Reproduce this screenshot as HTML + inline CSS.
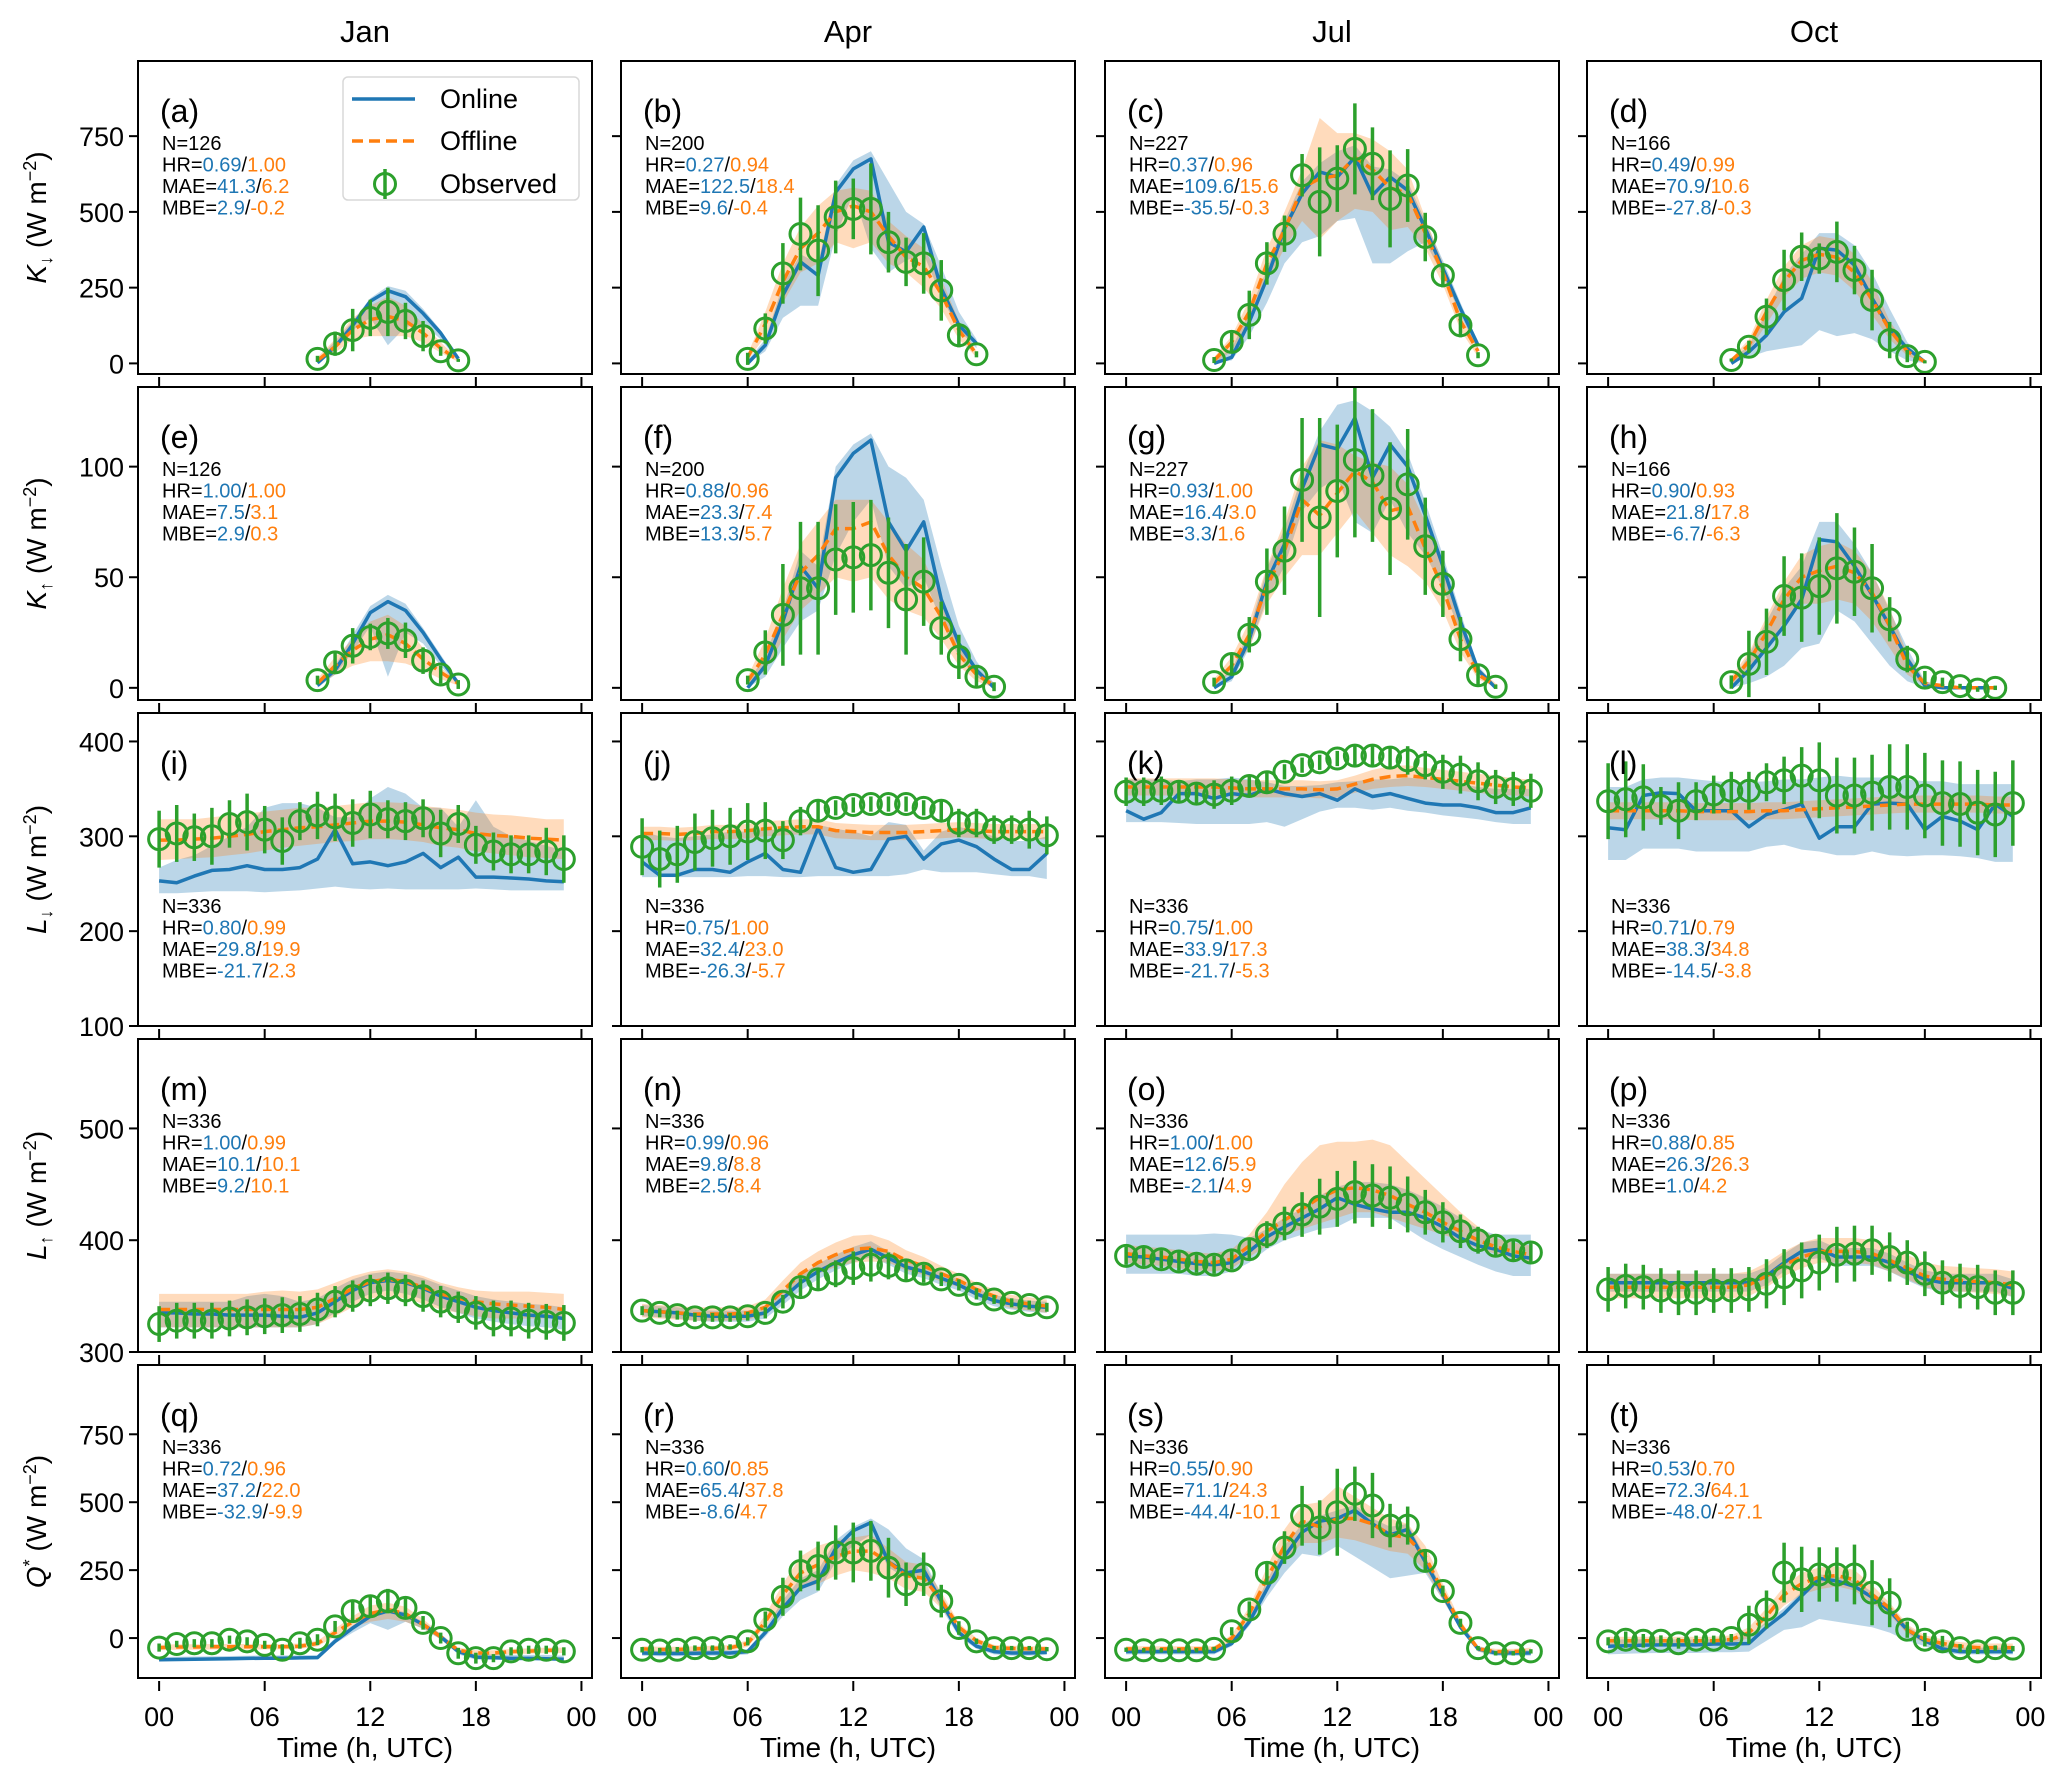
<!DOCTYPE html>
<html><head><meta charset="utf-8"><style>
html,body{margin:0;padding:0;background:#fff;}
svg{display:block;font-family:"Liberation Sans",Arial,sans-serif;}
</style></head><body>
<svg id="chart" width="2067" height="1776" viewBox="0 0 2067 1776" xmlns="http://www.w3.org/2000/svg"></svg>
<script>
// ---------- data ----------
const months = ["Jan","Apr","Jul","Oct"];
const panelLetters = ["a","b","c","d","e","f","g","h","i","j","k","l","m","n","o","p","q","r","s","t"];
const startHours = [9,6,5,7, 9,6,5,7, 0,0,0,0, 0,0,0,0, 0,0,0,0];
const statN = ["126","200","227","166","126","200","227","166","336","336","336","336","336","336","336","336","336","336","336","336"];
const statHROn = ["0.69","0.27","0.37","0.49","1.00","0.88","0.93","0.90","0.80","0.75","0.75","0.71","1.00","0.99","1.00","0.88","0.72","0.60","0.55","0.53"];
const statHROff = ["1.00","0.94","0.96","0.99","1.00","0.96","1.00","0.93","0.99","1.00","1.00","0.79","0.99","0.96","1.00","0.85","0.96","0.85","0.90","0.70"];
const statMAEOn = ["41.3","122.5","109.6","70.9","7.5","23.3","16.4","21.8","29.8","32.4","33.9","38.3","10.1","9.8","12.6","26.3","37.2","65.4","71.1","72.3"];
const statMAEOff = ["6.2","18.4","15.6","10.6","3.1","7.4","3.0","17.8","19.9","23.0","17.3","34.8","10.1","8.8","5.9","26.3","22.0","37.8","24.3","64.1"];
const statMBEOn = ["2.9","9.6","-35.5","-27.8","2.9","13.3","3.3","-6.7","-21.7","-26.3","-21.7","-14.5","9.2","2.5","-2.1","1.0","-32.9","-8.6","-44.4","-48.0"];
const statMBEOff = ["-0.2","-0.4","-0.3","-0.3","0.3","5.7","1.6","-6.3","2.3","-5.7","-5.3","-3.8","10.1","8.4","4.9","4.2","-9.9","4.7","-10.1","-27.1"];
const yLimits = [[-35,998],[-5.5,136],[100,430],[300,580],[-147,1005]];
const yTicks = [[0,250,500,750],[0,50,100],[100,200,300,400],[300,400,500],[0,250,500,750]];
const xTicks = [0,6,12,18,24];
const xTickLabels = ["00","06","12","18","00"];

const on_a=[2,55,125,205,240,220,165,100,15], off_a=[10,55,110,145,155,140,100,50,10], obs_a=[15,65,110,150,170,140,90,40,10], err_a=[10,40,70,60,80,60,50,15,5];
const onLo_a=[0,45,110,150,60,120,130,80,10], onHi_a=[10,75,140,215,255,240,180,110,20], offLo_a=[5,35,80,90,90,90,70,35,5], offHi_a=[20,80,150,190,220,190,130,70,15];
const on_b=[0,60,225,335,290,565,642,675,400,368,450,247,126,66], off_b=[20,130,270,380,430,500,520,500,420,350,320,230,110,30], obs_b=[15,115,297,427,372,483,510,510,400,335,330,241,93,30], err_b=[20,50,100,120,150,120,100,150,100,80,100,100,40,10];
const onLo_b=[0,40,150,190,190,420,560,380,300,340,360,220,110,50], onHi_b=[10,80,260,360,330,590,670,700,600,500,460,320,170,80], offLo_b=[10,90,200,300,330,400,380,400,330,300,250,180,80,20], offHi_b=[30,170,330,450,520,570,580,570,470,420,380,280,140,40];
const on_c=[0,20,137,280,445,560,632,615,681,555,615,571,445,313,181,60], off_c=[10,70,170,330,440,580,610,620,680,640,580,560,430,300,140,40], obs_c=[11,71,160,330,428,621,533,610,708,659,543,587,417,291,126,27], err_c=[10,30,80,70,60,70,180,110,150,120,160,120,80,40,40,10];
const onLo_c=[0,10,90,200,330,400,420,470,480,330,330,370,400,290,160,40], onHi_c=[10,50,170,310,470,600,660,700,720,650,640,600,470,340,200,70], offLo_c=[0,40,130,270,380,470,410,470,510,500,440,450,380,260,110,20], offHi_c=[20,90,210,380,500,640,810,760,760,740,700,640,480,330,160,50];
const on_d=[0,38,93,170,215,380,374,324,215,115,49,5], off_d=[10,60,170,270,340,360,350,300,210,110,40,5], obs_d=[11,55,154,275,352,346,368,308,209,77,24,5], err_d=[5,20,60,100,80,50,100,80,100,60,20,5];
const onLo_d=[0,20,40,50,60,110,90,100,80,40,10,0], onHi_d=[10,60,170,290,360,430,430,390,300,180,70,10], offLo_d=[5,40,130,220,280,300,290,240,160,80,25,0], offHi_d=[15,80,210,320,390,420,410,360,270,140,55,10];
const on_e=[1,8,20,34,39,35,25,13,2], off_e=[2,10,17,22,24,20,13,7,2], obs_e=[3.5,11.5,19,23,24.6,21.5,12.3,6,1.5], err_e=[2,5,8,6,7,8,6,4,2];
const onLo_e=[0,6,16,28,5,25,20,10,1], onHi_e=[2,10,24,37,42,38,27,15,3], offLo_e=[1,6,10,12,12,11,8,4,1], offHi_e=[4,14,22,30,33,28,18,9,3];
const on_f=[0,10,30,55,45,95,106,112,75,62,75,40,20,8,0], off_f=[3,15,33,52,60,72,72,75,60,50,45,32,15,6,1], obs_f=[3.5,16,33,45,45,58,59,60,52,40,48,27,14,5,0.5], err_f=[2,10,23,30,30,25,25,25,25,25,20,12,10,5,2];
const onLo_f=[0,5,18,30,35,60,75,85,55,45,50,30,14,5,0], onHi_f=[2,15,35,62,55,100,110,115,100,95,85,55,28,12,2], offLo_f=[1,8,22,35,42,50,48,50,40,35,32,22,10,3,0], offHi_f=[5,22,45,65,75,85,85,85,75,65,58,40,20,9,2];
const on_g=[0,5,22,48,65,90,110,108,122,95,110,100,78,55,30,8,0], off_g=[2,10,24,46,62,85,78,88,98,93,80,82,63,45,22,6,1], obs_g=[2.6,10.8,24,48,62,94,77,89,103,96,81,92,64,47,22,5.7,0.5], err_g=[2,5,8,15,20,28,45,30,35,30,30,25,22,15,10,5,1];
const onLo_g=[0,3,18,40,55,80,90,95,75,70,85,70,60,45,25,5,0], onHi_g=[2,8,26,54,72,96,116,128,130,125,118,106,84,60,34,10,1], offLo_g=[1,7,18,38,50,60,60,70,80,70,60,55,48,35,16,4,0], offHi_g=[4,14,30,55,75,100,112,110,105,102,100,92,75,55,28,9,2];
const on_h=[0,8,18,28,40,67,66,55,42,28,13,1,0,0,0,0], off_h=[3,12,25,40,50,53,55,52,43,28,10,2,1,0,0,0], obs_h=[2.6,10.8,20.8,41.5,40.8,46,54,52.5,45,31,13,4.6,2.6,0.8,-0.8,0], err_h=[3,15,15,18,20,22,25,20,20,10,6,3,2,1,1,1];
const onLo_h=[0,2,5,10,18,20,35,30,20,10,3,0,0,0,0,0], onHi_h=[2,15,30,45,55,75,75,65,52,35,18,3,1,0,0,0], offLo_h=[1,8,18,30,38,38,40,38,30,18,6,1,0,0,0,0], offHi_h=[5,16,32,48,60,64,66,62,52,36,15,3,1,0,0,0];
const on_i=[253,251,258,264,265,269,265,265,267,276,307,271,273,269,273,282,267,278,257,257,256,255,253,252], off_i=[296,296,297,298,300,302,305,307,309,310,312,314,316,316,315,312,309,307,303,301,300,298,297,296], obs_i=[297,303,299,300,313,315,307,295,316,322,320,314,323,318,316,319,303,313,291,284,281,281,284,276], err_i=[30,30,25,30,25,30,25,25,20,25,25,25,25,20,20,20,25,20,20,20,20,20,25,25];
const onLo_i=[240,240,241,242,242,242,241,242,243,245,247,245,244,245,244,244,244,244,245,244,243,243,243,243], onHi_i=[267,275,280,290,300,310,330,335,335,330,320,320,340,352,345,330,330,310,338,310,300,295,290,285], offLo_i=[275,276,277,278,280,282,285,288,290,292,294,295,297,297,296,294,290,288,284,282,280,278,277,276], offHi_i=[318,318,318,320,322,324,326,328,330,330,332,334,336,336,335,332,330,328,325,323,322,320,318,318];
const on_j=[273,259,259,265,265,262,273,282,265,262,309,267,262,265,297,300,276,292,296,289,276,265,265,282], off_j=[303,303,302,303,305,305,306,308,309,310,310,306,305,304,304,304,305,306,307,306,305,305,305,305], obs_j=[289,276,281,294,298,300,305,306,296,316,327,330,333,334,334,334,330,327,314,314,307,307,307,301], err_j=[30,30,30,30,30,30,30,30,20,15,10,8,8,8,8,8,8,10,15,15,15,15,20,20];
const onLo_j=[257,257,257,257,257,257,258,258,257,257,258,258,258,258,258,260,265,262,262,262,260,258,258,255], onHi_j=[305,300,298,300,302,305,305,308,306,308,312,308,305,300,315,312,285,305,310,305,300,295,295,300], offLo_j=[296,296,295,296,297,297,298,300,301,302,302,298,297,296,296,296,297,298,299,298,297,297,297,297], offHi_j=[310,310,309,310,312,312,313,316,317,318,318,314,313,312,312,312,313,314,315,314,313,313,313,313];
const on_k=[327,318,325,345,345,340,345,343,350,345,342,345,338,350,342,345,340,335,333,333,330,325,325,330], off_k=[352,352,352,352,352,352,351,350,350,350,350,349,350,355,360,363,364,362,360,358,356,354,352,351], obs_k=[347,347,348,347,345,344,348,353,357,368,375,378,382,385,385,383,380,375,368,365,358,352,350,348], err_k=[15,15,15,12,12,15,15,12,10,8,8,8,8,10,10,12,15,15,18,20,20,18,18,18];
const onLo_k=[315,315,315,314,313,313,313,313,315,310,318,326,330,330,328,330,327,325,322,320,318,315,313,313], onHi_k=[360,360,360,358,360,360,362,360,357,353,353,354,357,358,360,360,362,360,358,355,352,350,350,350], offLo_k=[343,343,343,343,343,343,342,341,341,341,341,340,341,346,350,352,353,352,350,348,346,344,343,342], offHi_k=[361,361,361,361,361,361,360,359,359,359,359,358,359,364,370,374,375,372,370,368,366,364,361,360];
const on_l=[309,307,343,346,345,327,327,327,310,323,328,334,298,310,310,334,335,334,307,321,316,307,334,321], off_l=[327,327,327,327,327,326,326,326,326,327,327,328,329,330,331,332,333,334,334,334,334,334,333,333], obs_l=[337,339,341,332,327,337,344,348,348,357,359,364,359,343,343,346,352,352,343,335,334,325,323,335], err_l=[40,40,35,20,30,20,20,20,20,20,25,30,40,40,40,40,45,45,45,45,45,45,45,45];
const onLo_l=[275,275,287,287,287,284,284,284,284,289,291,286,284,280,280,284,280,279,280,280,279,277,273,273], onHi_l=[352,352,360,362,362,360,358,357,357,358,360,360,362,364,362,362,362,360,358,358,355,355,355,355], offLo_l=[318,318,318,318,318,317,317,317,317,318,318,319,320,321,322,323,324,325,325,325,325,325,324,324], offHi_l=[336,336,336,336,336,335,335,335,335,336,336,337,338,339,340,341,342,343,343,343,343,343,342,342];
const on_m=[335,335,334,334,333,333,333,332,331,335,345,355,362,364,362,357,350,345,340,337,335,333,332,330], off_m=[338,338,338,338,338,338,338,338,338,340,348,357,363,365,363,358,352,348,345,343,342,341,340,338], obs_m=[325,328,328,328,330,331,332,333,334,338,345,350,355,357,355,350,345,340,335,330,330,328,327,326], err_m=[16,16,16,16,16,16,16,16,16,15,14,14,14,14,14,14,14,14,15,16,16,16,16,16];
const onLo_m=[322,322,322,322,322,322,322,322,322,325,335,345,352,355,352,347,340,335,330,327,325,323,322,320], onHi_m=[345,345,345,345,345,350,352,350,345,348,357,365,370,372,370,366,360,355,350,347,345,343,342,340], offLo_m=[322,322,322,322,322,322,322,322,322,325,332,340,348,350,348,343,338,335,332,330,330,330,330,330], offHi_m=[352,352,352,352,352,352,354,355,354,356,362,368,372,374,372,368,362,358,355,354,354,354,353,352];
const on_n=[337,336,335,333,332,332,332,335,348,362,372,380,387,392,384,376,372,366,360,352,346,343,341,340], off_n=[337,336,335,334,334,334,335,340,355,370,380,387,392,393,390,382,377,370,364,356,350,345,343,341], obs_n=[337,335,333,331,331,331,332,335,345,358,365,370,375,378,377,373,370,365,360,352,347,344,342,340], err_n=[4,4,4,4,4,4,4,5,6,8,10,12,15,15,12,10,8,6,5,5,4,4,4,4];
const onLo_n=[332,331,330,328,327,327,327,330,342,355,365,373,380,385,378,370,366,360,355,347,341,338,336,335], onHi_n=[342,341,340,338,337,337,337,341,354,369,379,387,394,399,390,382,378,372,365,357,351,348,346,345], offLo_n=[331,330,329,328,328,328,329,333,346,360,370,376,380,381,380,373,369,363,358,350,344,339,337,335], offHi_n=[343,342,341,340,340,340,341,347,364,380,390,398,404,405,400,391,385,377,370,362,356,351,349,347];
const on_o=[386,385,383,381,379,378,380,390,403,412,420,428,438,432,428,425,425,420,412,402,395,392,386,384], off_o=[388,386,385,383,381,380,383,395,408,418,428,438,445,447,445,440,432,425,416,408,400,394,390,387], obs_o=[386,385,383,381,379,378,382,392,405,415,423,430,437,443,440,438,432,425,416,408,400,395,391,389], err_o=[8,8,8,8,8,8,8,10,12,15,20,25,25,28,28,28,25,20,18,15,12,10,10,8];
const onLo_o=[370,370,370,370,368,368,372,380,392,400,405,410,412,420,420,420,410,400,392,385,378,372,368,368], onHi_o=[405,405,405,405,405,406,405,402,410,420,428,440,448,452,452,450,445,438,430,420,410,405,405,405], offLo_o=[380,378,377,375,373,372,375,385,395,405,410,415,420,425,425,420,415,410,405,400,392,388,384,380], offHi_o=[396,394,393,391,389,388,392,405,425,450,470,485,488,488,490,485,470,455,440,425,412,402,398,395];
const on_p=[362,362,362,362,362,362,362,362,362,368,380,390,392,385,385,385,380,372,365,362,362,362,362,357], off_p=[358,358,358,358,358,358,358,358,360,368,378,385,390,390,390,388,382,375,368,365,364,363,362,360], obs_p=[356,359,358,355,353,353,355,355,356,361,367,373,380,387,388,391,385,380,370,362,359,358,353,353], err_p=[20,20,20,20,20,20,20,20,20,22,25,25,25,25,25,22,22,20,20,20,20,20,20,20];
const onLo_p=[354,354,354,354,354,354,354,354,354,360,372,382,384,377,377,377,372,364,357,354,354,354,354,349], onHi_p=[370,370,370,370,370,370,370,370,370,376,388,398,400,393,393,393,388,380,373,370,370,370,370,365], offLo_p=[348,348,348,348,348,348,348,348,350,358,368,375,380,380,380,378,372,365,358,355,354,353,352,350], offHi_p=[370,370,370,370,370,370,370,370,372,380,390,398,402,402,402,400,394,387,380,377,376,375,374,372];
const on_q=[-80,-79,-78,-77,-76,-75,-74,-74,-73,-72,-12,37,80,100,85,50,5,-50,-70,-72,-75,-75,-76,-78], off_q=[-35,-33,-33,-32,-32,-32,-32,-32,-30,-20,20,60,90,105,90,50,5,-45,-55,-55,-50,-48,-45,-45], obs_q=[-35,-22,-19,-19,-6,-12,-25,-43,-19,-6,43,99,117,136,111,56,0,-56,-74,-74,-49,-43,-43,-49], err_q=[15,12,15,15,15,15,15,20,20,20,20,40,40,45,35,25,20,20,20,15,15,15,15,15];
const onLo_q=[-85,-84,-83,-82,-81,-80,-80,-80,-79,-78,-20,20,55,30,60,35,-5,-60,-80,-80,-82,-82,-82,-82], onHi_q=[-70,-69,-68,-67,-66,-65,-64,-64,-63,-62,0,45,95,110,95,60,15,-40,-60,-60,-62,-62,-62,-65], offLo_q=[-45,-43,-43,-42,-42,-42,-42,-42,-40,-30,5,40,60,70,60,35,-5,-55,-65,-65,-60,-58,-55,-55], offHi_q=[-25,-23,-23,-22,-22,-22,-22,-22,-20,-10,35,80,120,130,115,70,15,-35,-45,-45,-40,-38,-35,-35];
const on_r=[-55,-57,-57,-56,-55,-55,-50,20,110,185,210,330,395,425,280,240,250,135,20,-30,-50,-55,-55,-52], off_r=[-40,-42,-42,-40,-38,-36,-20,60,160,240,270,300,320,320,280,230,220,140,40,-10,-35,-38,-40,-40], obs_r=[-43,-46,-43,-37,-37,-33,-12,68,152,247,265,315,315,321,259,198,235,136,37,-12,-37,-37,-37,-41], err_r=[10,10,10,10,10,10,15,30,70,75,90,100,110,110,110,80,80,60,25,10,8,8,8,8];
const onLo_r=[-65,-67,-67,-66,-65,-65,-60,5,80,140,170,280,340,380,260,220,220,110,5,-40,-60,-65,-65,-62], onHi_r=[-45,-47,-47,-46,-45,-45,-40,35,140,220,250,360,410,440,400,330,290,160,35,-20,-40,-45,-45,-42], offLo_r=[-50,-52,-52,-50,-48,-46,-32,40,120,180,200,230,250,240,220,180,170,110,25,-20,-45,-48,-50,-50], offHi_r=[-30,-32,-32,-30,-28,-26,-8,85,200,300,340,360,370,380,330,280,270,170,55,0,-25,-28,-30,-30];
const on_s=[-50,-50,-50,-50,-50,-50,-20,60,180,300,390,430,440,470,420,380,400,280,160,40,-40,-55,-55,-55], off_s=[-40,-40,-40,-40,-40,-40,0,90,220,340,430,410,440,440,420,380,370,300,170,50,-40,-50,-50,-45], obs_s=[-43,-45,-45,-45,-45,-40,25,105,240,333,450,407,463,531,488,414,414,284,173,56,-37,-56,-56,-49], err_s=[8,8,8,8,8,8,15,30,40,60,110,100,160,100,120,80,70,40,20,15,8,8,8,8];
const onLo_s=[-60,-60,-60,-60,-60,-60,-30,45,150,240,310,300,340,300,260,220,230,240,140,30,-50,-65,-65,-65], onHi_s=[-40,-40,-40,-40,-40,-40,-10,75,210,340,420,450,470,490,440,410,420,300,180,55,-30,-45,-45,-45], offLo_s=[-50,-50,-50,-50,-50,-50,-12,70,180,280,350,350,370,360,340,320,310,250,140,35,-50,-60,-60,-55], offHi_s=[-30,-30,-30,-30,-30,-30,12,115,260,400,490,500,560,520,480,440,420,340,200,65,-30,-40,-40,-35];
const on_t=[-30,-28,-26,-25,-25,-25,-22,-22,-20,40,90,155,220,210,190,150,100,30,-10,-40,-50,-50,-50,-50], off_t=[-10,-10,-10,-10,-10,-10,-10,-5,20,80,160,200,225,230,215,160,110,30,-5,-20,-30,-35,-35,-35], obs_t=[-12,-6,-10,-10,-19,-6,-6,0,49,105,241,216,234,234,234,167,130,31,-6,-12,-37,-49,-37,-39], err_t=[15,30,25,20,20,15,15,15,70,70,110,120,100,100,110,120,90,30,25,20,15,10,10,10];
const onLo_t=[-60,-58,-56,-55,-55,-55,-52,-52,-50,-10,30,40,70,60,50,40,20,-10,-30,-55,-60,-60,-60,-60], onHi_t=[-5,-5,-5,-5,-5,-5,-5,0,10,60,110,170,235,225,210,170,120,45,0,-25,-35,-35,-35,-35], offLo_t=[-25,-25,-25,-25,-25,-25,-25,-20,0,55,120,160,180,190,175,130,85,15,-20,-35,-45,-50,-50,-50], offHi_t=[5,5,5,5,5,5,5,10,40,110,190,240,260,265,250,195,130,50,10,-5,-15,-20,-20,-20];

const onlineSeries=[on_a,on_b,on_c,on_d,on_e,on_f,on_g,on_h,on_i,on_j,on_k,on_l,on_m,on_n,on_o,on_p,on_q,on_r,on_s,on_t];
const offlineSeries=[off_a,off_b,off_c,off_d,off_e,off_f,off_g,off_h,off_i,off_j,off_k,off_l,off_m,off_n,off_o,off_p,off_q,off_r,off_s,off_t];
const observedSeries=[obs_a,obs_b,obs_c,obs_d,obs_e,obs_f,obs_g,obs_h,obs_i,obs_j,obs_k,obs_l,obs_m,obs_n,obs_o,obs_p,obs_q,obs_r,obs_s,obs_t];
const observedErr=[err_a,err_b,err_c,err_d,err_e,err_f,err_g,err_h,err_i,err_j,err_k,err_l,err_m,err_n,err_o,err_p,err_q,err_r,err_s,err_t];
const onlineLo=[onLo_a,onLo_b,onLo_c,onLo_d,onLo_e,onLo_f,onLo_g,onLo_h,onLo_i,onLo_j,onLo_k,onLo_l,onLo_m,onLo_n,onLo_o,onLo_p,onLo_q,onLo_r,onLo_s,onLo_t];
const onlineHi=[onHi_a,onHi_b,onHi_c,onHi_d,onHi_e,onHi_f,onHi_g,onHi_h,onHi_i,onHi_j,onHi_k,onHi_l,onHi_m,onHi_n,onHi_o,onHi_p,onHi_q,onHi_r,onHi_s,onHi_t];
const offlineLo=[offLo_a,offLo_b,offLo_c,offLo_d,offLo_e,offLo_f,offLo_g,offLo_h,offLo_i,offLo_j,offLo_k,offLo_l,offLo_m,offLo_n,offLo_o,offLo_p,offLo_q,offLo_r,offLo_s,offLo_t];
const offlineHi=[offHi_a,offHi_b,offHi_c,offHi_d,offHi_e,offHi_f,offHi_g,offHi_h,offHi_i,offHi_j,offHi_k,offHi_l,offHi_m,offHi_n,offHi_o,offHi_p,offHi_q,offHi_r,offHi_s,offHi_t];

// ---------- layout ----------
const NS="http://www.w3.org/2000/svg";
const svg=document.getElementById('chart');
const colLeft=[138,621,1105,1587], rowTop=[61,387,713,1039,1365], PW=454, PH=313;
const XMIN=-1.2, XMAX=24.6;
const BLUE="#1f77b4", ORANGE="#ff7f0e", GREEN="#2ca02c";
function mk(tag,attrs,parent){const e=document.createElementNS(NS,tag);for(const k in attrs)e.setAttribute(k,attrs[k]);(parent||svg).appendChild(e);return e;}
function xScale(c,h){return colLeft[c]+(h-XMIN)/(XMAX-XMIN)*PW;}
function yScale(r,v){const[lo,hi]=yLimits[r];return rowTop[r]+PH-(v-lo)/(hi-lo)*PH;}

// column titles
months.forEach((m,c)=>{
  const t=mk('text',{x:colLeft[c]+PW/2,y:42,'text-anchor':'middle','font-size':31});
  t.textContent=m;
  
  
});

// y-axis labels
const yLabSym=[["K","↓"],["K","↑"],["L","↓"],["L","↑"],["Q","*"]];
yLabSym.forEach((s,r)=>{
  const cy=rowTop[r]+PH/2;
  const t=mk('text',{transform:`translate(46,${cy}) rotate(-90)`,'text-anchor':'middle','font-size':28});
  
  
  const a=mk('tspan',{'font-style':'italic'},t);a.textContent=s[0];
  const b=mk('tspan',{'font-size':18,dy:(s[1]==='*'?-10:6)},t);b.textContent=s[1];
  const c2=mk('tspan',{dy:(s[1]==='*'?10:-6)},t);c2.textContent="  (W m";
  const d=mk('tspan',{'font-size':18,dy:-10},t);d.textContent="−2";
  const e=mk('tspan',{dy:10},t);e.textContent=")";
});

function pathFrom(c,r,hours,vals){let d="";hours.forEach((h,i)=>{d+=(i?"L":"M")+xScale(c,h).toFixed(1)+","+yScale(r,vals[i]).toFixed(1);});return d;}
function bandFrom(c,r,hours,lo,hi){let d="";hours.forEach((h,i)=>{d+=(i?"L":"M")+xScale(c,h).toFixed(1)+","+yScale(r,hi[i]).toFixed(1);});for(let i=hours.length-1;i>=0;i--)d+="L"+xScale(c,hours[i]).toFixed(1)+","+yScale(r,lo[i]).toFixed(1);return d+"Z";}

for(let p=0;p<20;p++){
  const r=Math.floor(p/4), c=p%4, L=panelLetters[p];
  const g=mk('g',{});
  
  
  const x0=colLeft[c], y0=rowTop[r];
  const clipId='clip'+p;
  const cp=mk('clipPath',{id:clipId},g);mk('rect',{x:x0,y:y0,width:PW,height:PH},cp);
  const hours=onlineSeries[p].map((_,i)=>startHours[p]+i);
  const plot=mk('g',{'clip-path':`url(#${clipId})`},g);
  const ob=mk('path',{d:bandFrom(c,r,hours,onlineLo[p],onlineHi[p]),fill:BLUE,'fill-opacity':0.3,stroke:'none'},plot);
  
  
  const fb=mk('path',{d:bandFrom(c,r,hours,offlineLo[p],offlineHi[p]),fill:ORANGE,'fill-opacity':0.28,stroke:'none'},plot);
  
  
  const ol=mk('path',{d:pathFrom(c,r,hours,onlineSeries[p]),fill:'none',stroke:BLUE,'stroke-width':3.5,'stroke-linejoin':'round'},plot);
  
  
  const fl=mk('path',{d:pathFrom(c,r,hours,offlineSeries[p]),fill:'none',stroke:ORANGE,'stroke-width':3.5,'stroke-dasharray':'11,6'},plot);
  
  
  hours.forEach((h,i)=>{
    const v=observedSeries[p][i], e=observedErr[p][i], cx=xScale(c,h);
    const eb=mk('line',{x1:cx,x2:cx,y1:yScale(r,v-e),y2:yScale(r,v+e),stroke:GREEN,'stroke-width':3.5},plot);
    
    
    const pt=mk('circle',{cx:cx,cy:yScale(r,v),r:10.5,fill:'none',stroke:GREEN,'stroke-width':3},plot);
    
    
  });
  const fr=mk('rect',{x:x0,y:y0,width:PW,height:PH,fill:'none',stroke:'#000','stroke-width':2},g);
  
  
  // y ticks
  yTicks[r].forEach(v=>{
    const yy=yScale(r,v);
    mk('line',{x1:x0-9,x2:x0,y1:yy,y2:yy,stroke:'#000','stroke-width':2},g);
    if(c===0){const t=mk('text',{x:x0-14,y:yy+10,'text-anchor':'end','font-size':27},g);t.textContent=v;
      
      }
  });
  // x ticks
  xTicks.forEach((h,i)=>{
    const xx=xScale(c,h);
    mk('line',{x1:xx,x2:xx,y1:y0+PH+3,y2:y0+PH+13,stroke:'#000','stroke-width':2},g);
    if(r===4){const t=mk('text',{x:xx,y:y0+PH+48,'text-anchor':'middle','font-size':27},g);t.textContent=xTickLabels[i];
      
      }
  });
  if(r===4){const t=mk('text',{x:x0+PW/2,y:1757,'text-anchor':'middle','font-size':28},g);t.textContent="Time (h, UTC)";
    
    }
  // panel label
  const pl=mk('text',{x:x0+22,y:y0+61,'font-size':32},g);pl.textContent="("+L+")";
  
  
  // stats
  const sy=y0+(r===2?200:89);
  const st=mk('g',{'font-size':20},g);
  
  
  const lines=[["N=",statN[p],null],["HR=",statHROn[p],statHROff[p]],["MAE=",statMAEOn[p],statMAEOff[p]],["MBE=",statMBEOn[p],statMBEOff[p]]];
  lines.forEach((ln,k)=>{
    const t=mk('text',{x:x0+24,y:sy+k*21.5},st);
    if(ln[2]===null){t.textContent=ln[0]+ln[1];return;}
    const a=mk('tspan',{},t);a.textContent=ln[0];
    const b=mk('tspan',{fill:BLUE},t);b.textContent=ln[1];
    const s=mk('tspan',{},t);s.textContent="/";
    const d=mk('tspan',{fill:ORANGE},t);d.textContent=ln[2];
  });
}

// legend in panel (a)
const lg=mk('g',{});


mk('rect',{x:343,y:77,width:236,height:123,rx:5,fill:'#fff','fill-opacity':0.85,stroke:'#d8d8d8','stroke-width':1.5},lg);
const le1=mk('g',{},lg);


mk('line',{x1:352,x2:415,y1:99,y2:99,stroke:BLUE,'stroke-width':3.5},le1);
const lt1=mk('text',{x:440,y:108,'font-size':27},le1);lt1.textContent="Online";
const le2=mk('g',{},lg);


mk('line',{x1:352,x2:415,y1:141,y2:141,stroke:ORANGE,'stroke-width':3.5,'stroke-dasharray':'11,6'},le2);
const lt2=mk('text',{x:440,y:150,'font-size':27},le2);lt2.textContent="Offline";
const le3=mk('g',{},lg);


mk('line',{x1:385,x2:385,y1:169,y2:199,stroke:GREEN,'stroke-width':3.5},le3);
mk('circle',{cx:385,cy:184,r:10.5,fill:'none',stroke:GREEN,'stroke-width':3},le3);
const lt3=mk('text',{x:440,y:193,'font-size':27},le3);lt3.textContent="Observed";
</script>
</body></html>
